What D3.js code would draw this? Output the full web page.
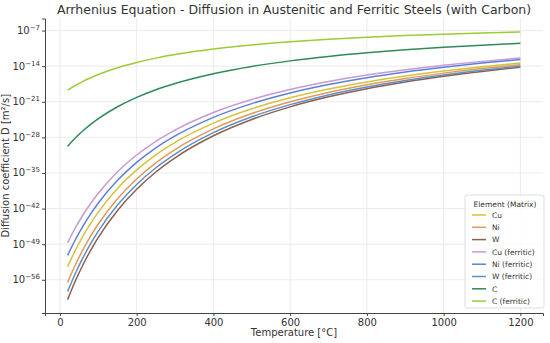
<!DOCTYPE html>
<html>
<head>
<meta charset="utf-8">
<script src="https://cdn.jsdelivr.net/npm/d3@7"></script>
<style>
  body { margin: 0; background: #fff; }
  svg { font-family: "DejaVu Sans", sans-serif; }
</style>
</head>
<body>
<div id="chart"></div>
<script>
// temperatures in degC
const temps = [20, 40, 60, 80, 100, 150, 200, 250, 300, 400, 500, 600, 700, 800, 900, 1000, 1100, 1200];

// log10 of D [m^2/s]
const cuAust = [-53.40, -50.21, -47.40, -44.91, -42.69, -38.05, -34.40, -31.44, -29.00, -25.21, -22.39, -20.23, -18.50, -17.10, -15.94, -14.96, -14.12, -13.40];
const niAust = [-56.50, -53.09, -50.08, -47.42, -45.04, -40.08, -36.17, -33.00, -30.39, -26.33, -23.32, -21.00, -19.16, -17.66, -16.42, -15.37, -14.47, -13.70];
const wAust  = [-59.90, -56.25, -53.05, -50.20, -47.66, -42.37, -38.19, -34.81, -32.02, -27.69, -24.48, -22.00, -20.03, -18.43, -17.10, -15.98, -15.03, -14.20];
const cuFerr = [-48.70, -45.80, -43.26, -41.00, -38.98, -34.77, -31.46, -28.77, -26.56, -23.11, -20.56, -18.60, -17.03, -15.76, -14.71, -13.82, -13.06, -12.40];
const niFerr = [-51.20, -48.13, -45.43, -43.03, -40.89, -36.43, -32.91, -30.06, -27.72, -24.06, -21.36, -19.27, -17.61, -16.26, -15.14, -14.20, -13.40, -12.70];
const wFerr  = [-58.30, -54.77, -51.66, -48.90, -46.44, -41.31, -37.26, -33.98, -31.28, -27.08, -23.96, -21.56, -19.65, -18.10, -16.81, -15.73, -14.80, -14.00];
const cAust  = [-29.75, -28.13, -26.71, -25.45, -24.33, -21.98, -20.13, -18.63, -17.40, -15.48, -14.05, -12.96, -12.08, -11.37, -10.79, -10.29, -9.87, -9.50];
const cFerr  = [-18.70, -17.79, -16.98, -16.27, -15.64, -14.31, -13.27, -12.42, -11.72, -10.64, -9.83, -9.21, -8.72, -8.32, -7.99, -7.71, -7.47, -7.26];

const seriesNames = ['Cu', 'Ni', 'W', 'Cu (ferritic)', 'Ni (ferritic)', 'W (ferritic)', 'C', 'C (ferritic)'];
const seriesValues = [cuAust, niAust, wAust, cuFerr, niFerr, wFerr, cAust, cFerr];
const seriesColors = ['#d6c23c', '#e29a55', '#8e5f4e', '#c79bd2', '#5d7fdc', '#5a90c6', '#2e8b57', '#9acd32'];

const xTicks = [0, 200, 400, 600, 800, 1000, 1200];
const yTickExps = [-56, -49, -42, -35, -28, -21, -14, -7];

const width = 550, height = 343;
const margin = { top: 18.5, right: 7, bottom: 30, left: 45 };

const svg = d3.select('#chart').append('svg')
    .attr('width', width)
    .attr('height', height);

const x = d3.scaleLinear()
    .domain([-39, 1259])
    .range([margin.left, width - margin.right]);

const y = d3.scaleLog()
    .domain([Math.pow(10, -62.53), Math.pow(10, -4.63)])
    .range([height - margin.bottom, margin.top]);

// grid
svg.append('g')
    .selectAll('line')
    .data(xTicks)
    .join('line')
    .attr('x1', d => x(d)).attr('x2', d => x(d))
    .attr('y1', margin.top).attr('y2', height - margin.bottom)
    .attr('stroke', '#e6e6e6')
    .attr('stroke-width', 0.8);

svg.append('g')
    .selectAll('line')
    .data(yTickExps)
    .join('line')
    .attr('x1', margin.left).attr('x2', width - margin.right)
    .attr('y1', d => y(Math.pow(10, d))).attr('y2', d => y(Math.pow(10, d)))
    .attr('stroke', '#e6e6e6')
    .attr('stroke-width', 0.8);

// lines
const line = d3.line()
    .x((d, i) => x(temps[i]))
    .y(d => y(Math.pow(10, d)))
    .curve(d3.curveMonotoneX);

svg.append('g')
    .selectAll('path')
    .data(seriesValues)
    .join('path')
    .attr('fill', 'none')
    .attr('stroke', (d, i) => seriesColors[i])
    .attr('stroke-width', 1.5)
    .attr('d', line);

// x axis
const xAxis = svg.append('g')
    .attr('transform', `translate(0,${height - margin.bottom})`)
    .call(d3.axisBottom(x).tickValues(xTicks).tickFormat(d3.format('d')).tickSize(3).tickPadding(3));
xAxis.select('.domain').attr('stroke', '#444').attr('stroke-width', 1);
xAxis.selectAll('.tick line').attr('stroke', '#444');
xAxis.selectAll('.tick text')
    .attr('font-size', 10)
    .attr('fill', '#333')
    .attr('font-family', '"DejaVu Sans", sans-serif');

// y axis
const yAxis = svg.append('g')
    .attr('transform', `translate(${margin.left},0)`)
    .call(d3.axisLeft(y).tickValues(yTickExps.map(e => Math.pow(10, e))).tickSize(3).tickPadding(3).tickFormat(''));
yAxis.select('.domain').attr('stroke', '#444').attr('stroke-width', 1);
yAxis.selectAll('.tick line').attr('stroke', '#444');

const yLabels = svg.append('g')
    .selectAll('text')
    .data(yTickExps)
    .join('text')
    .attr('x', margin.left - 5)
    .attr('y', d => y(Math.pow(10, d)) + 3.5)
    .attr('text-anchor', 'end')
    .attr('fill', '#333')
    .attr('font-size', 10);
yLabels.append('tspan').text('10');
yLabels.append('tspan')
    .attr('dy', -4)
    .attr('font-size', 7)
    .text(d => '\u2212' + Math.abs(d));

// title and axis labels
svg.append('text')
    .attr('x', (margin.left + width - margin.right) / 2)
    .attr('y', 14)
    .attr('text-anchor', 'middle')
    .attr('font-size', 12.5)
    .attr('fill', '#333')
    .text('Arrhenius Equation - Diffusion in Austenitic and Ferritic Steels (with Carbon)');

svg.append('text')
    .attr('x', (margin.left + width - margin.right) / 2)
    .attr('y', 336)
    .attr('text-anchor', 'middle')
    .attr('font-size', 10)
    .attr('fill', '#333')
    .text('Temperature [°C]');

svg.append('text')
    .attr('transform', `translate(9,${(margin.top + height - margin.bottom) / 2}) rotate(-90)`)
    .attr('text-anchor', 'middle')
    .attr('font-size', 10)
    .attr('fill', '#333')
    .text('Diffusion coefficient D [m²/s]');

// legend
const legend = svg.append('g').attr('transform', 'translate(465,195)');
legend.append('rect')
    .attr('width', 79).attr('height', 113)
    .attr('rx', 2)
    .attr('fill', '#fff')
    .attr('fill-opacity', 0.8)
    .attr('stroke', '#ddd');
legend.append('text')
    .attr('x', 40).attr('y', 12)
    .attr('text-anchor', 'middle')
    .attr('font-size', 7.5)
    .attr('fill', '#333')
    .text('Element (Matrix)');

const items = legend.selectAll('g.item')
    .data(seriesNames)
    .join('g')
    .attr('class', 'item')
    .attr('transform', (d, i) => `translate(0,${20 + i * 12.3})`);
items.append('line')
    .attr('x1', 7).attr('x2', 21)
    .attr('stroke', (d, i) => seriesColors[i])
    .attr('stroke-width', 1.5);
items.append('text')
    .attr('x', 27).attr('y', 2.7)
    .attr('font-size', 7.5)
    .attr('fill', '#333')
    .text(d => d);
</script>
</body>
</html>
